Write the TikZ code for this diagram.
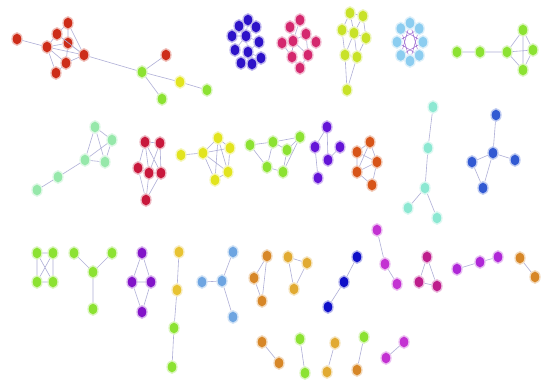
\documentclass[tikz,border=0pt]{standalone}
\usetikzlibrary{shapes.geometric}
\definecolor{redc}{RGB}{205,45,25}
\definecolor{bluec}{RGB}{45,18,200}
\definecolor{pinkc}{RGB}{212,40,110}
\definecolor{ygc}{RGB}{200,226,40}
\definecolor{lbc}{RGB}{140,205,240}
\definecolor{grc}{RGB}{140,226,50}
\definecolor{mintg}{RGB}{150,232,170}
\definecolor{crim}{RGB}{200,24,60}
\definecolor{yel}{RGB}{226,228,30}
\definecolor{purp}{RGB}{100,20,215}
\definecolor{oran}{RGB}{215,85,25}
\definecolor{mint}{RGB}{140,232,210}
\definecolor{blu}{RGB}{50,90,210}
\definecolor{purp2}{RGB}{130,20,200}
\definecolor{gold}{RGB}{232,195,50}
\definecolor{skyb}{RGB}{110,165,225}
\definecolor{orng}{RGB}{215,135,40}
\definecolor{gold2}{RGB}{225,170,50}
\definecolor{dblu}{RGB}{15,15,200}
\definecolor{mag}{RGB}{195,50,210}
\definecolor{mag2}{RGB}{190,30,140}
\definecolor{purp3}{RGB}{175,40,215}
\definecolor{edgec}{RGB}{175,175,215}
\definecolor{edgev}{RGB}{160,110,210}
\tikzset{
  dot/.style={ellipse,fill=#1,draw=#1!30,line width=1.3pt,minimum width=10pt,minimum height=12.5pt,inner sep=0pt},
  lnk/.style={draw=edgec,line width=0.6pt},
  lnkv/.style={draw=edgev,line width=0.5pt}
}
\begin{document}
\begin{tikzpicture}[x=1pt,y=-1pt]
\useasboundingbox (0,0) rectangle (544,381);
\fill[white] (0,0) rectangle (544,381);
% Group A
\node[dot=redc] (A1) at (17,39) {};
\node[dot=redc] (A2) at (68,23) {};
\node[dot=redc] (A3) at (57,34) {};
\node[dot=redc] (A4) at (47,47) {};
\node[dot=redc] (A5) at (68,43) {};
\node[dot=redc] (A6) at (84,55) {};
\node[dot=redc] (A7) at (66,63) {};
\node[dot=redc] (A8) at (56,73) {};
\node[dot=grc] (A9) at (142,72) {};
\node[dot=redc] (A10) at (166,55) {};
\node[dot=yel] (A11) at (180,82) {};
\node[dot=grc] (A12) at (207,90) {};
\node[dot=grc] (A13) at (162,99) {};
\draw[lnk] (A1)--(A4) (A4)--(A3) (A4)--(A5) (A4)--(A7) (A4)--(A8) (A3)--(A2) (A3)--(A5) (A2)--(A5) (A2)--(A6) (A5)--(A6) (A3)--(A6) (A5)--(A7) (A7)--(A6) (A7)--(A8) (A4)--(A6) (A6)--(A9) (A9)--(A10) (A9)--(A11) (A11)--(A12) (A9)--(A13);
% Group B blue
\node[dot=bluec] (B1) at (248,20) {};
\node[dot=bluec] (B2) at (239,26) {};
\node[dot=bluec] (B3) at (256,27) {};
\node[dot=bluec] (B4) at (232,36) {};
\node[dot=bluec] (B5) at (246,36) {};
\node[dot=bluec] (B6) at (259,42) {};
\node[dot=bluec] (B7) at (235,50) {};
\node[dot=bluec] (B8) at (248,52) {};
\node[dot=bluec] (B9) at (261,58) {};
\node[dot=bluec] (B10) at (241,63) {};
\node[dot=bluec] (B11) at (252,64) {};
\draw[lnk] (B5)--(B1) (B5)--(B2) (B5)--(B3) (B5)--(B4) (B5)--(B6) (B5)--(B7) (B5)--(B8) (B8)--(B9) (B8)--(B10) (B8)--(B11) (B6)--(B8);
% Group P pink
\node[dot=pinkc] (P1) at (300,20) {};
\node[dot=pinkc] (P2) at (290,27) {};
\node[dot=pinkc] (P3) at (306,34) {};
\node[dot=pinkc] (P4) at (293,41) {};
\node[dot=pinkc] (P5) at (282,43) {};
\node[dot=pinkc] (P6) at (316,42) {};
\node[dot=pinkc] (P7) at (308,55) {};
\node[dot=pinkc] (P8) at (292,57) {};
\node[dot=pinkc] (P9) at (300,68) {};
\draw[lnk] (P4)--(P1) (P4)--(P2) (P4)--(P3) (P4)--(P5) (P4)--(P7) (P4)--(P8) (P3)--(P6) (P3)--(P7) (P7)--(P9) (P8)--(P9) (P5)--(P8);
% Group Y yellow-green
\node[dot=ygc] (Y1) at (350,13) {};
\node[dot=ygc] (Y2) at (363,16) {};
\node[dot=ygc] (Y3) at (342,30) {};
\node[dot=ygc] (Y4) at (354,33) {};
\node[dot=ygc] (Y5) at (366,38) {};
\node[dot=ygc] (Y6) at (345,55) {};
\node[dot=ygc] (Y7) at (357,57) {};
\node[dot=ygc] (Y8) at (347,90) {};
\draw[lnk] (Y1)--(Y3) (Y1)--(Y4) (Y2)--(Y4) (Y2)--(Y5) (Y3)--(Y4) (Y4)--(Y5) (Y3)--(Y6) (Y4)--(Y6) (Y4)--(Y7) (Y5)--(Y7) (Y6)--(Y7) (Y6)--(Y8) (Y7)--(Y8) (Y1)--(Y2);
% Flower light blue
\foreach \i in {0,...,7} {
  \node[dot=lbc] (F\i) at ({410+13*cos(90+45*\i)},{42-19*sin(90+45*\i)}) {};
}
\draw[lnkv] (F0)--(F3) (F3)--(F6) (F6)--(F1) (F1)--(F4) (F4)--(F7) (F7)--(F2) (F2)--(F5) (F5)--(F0);
% Green chain
\node[dot=grc] (G1) at (457,52) {};
\node[dot=grc] (G2) at (480,52) {};
\node[dot=grc] (G3) at (507,52) {};
\node[dot=grc] (G4) at (523,30) {};
\node[dot=grc] (G5) at (533,50) {};
\node[dot=grc] (G6) at (523,70) {};
\draw[lnk] (G1)--(G2) (G2)--(G3) (G3)--(G4) (G3)--(G6) (G4)--(G5) (G5)--(G6) (G4)--(G6) (G3)--(G5);
% Light green
\node[dot=mintg] (L1) at (95,127) {};
\node[dot=mintg] (L2) at (112,140) {};
\node[dot=mintg] (L3) at (85,160) {};
\node[dot=mintg] (L4) at (105,162) {};
\node[dot=mintg] (L5) at (58,177) {};
\node[dot=mintg] (L6) at (37,190) {};
\draw[lnk] (L1)--(L2) (L1)--(L3) (L2)--(L3) (L3)--(L4) (L2)--(L4) (L1)--(L4) (L3)--(L5) (L5)--(L6);
% Crimson
\node[dot=crim] (C1) at (145,142) {};
\node[dot=crim] (C2) at (160,143) {};
\node[dot=crim] (C3) at (138,168) {};
\node[dot=crim] (C4) at (149,173) {};
\node[dot=crim] (C5) at (161,173) {};
\node[dot=crim] (C6) at (146,200) {};
\draw[lnk] (C1)--(C2) (C1)--(C3) (C1)--(C4) (C2)--(C5) (C2)--(C4) (C1)--(C5) (C3)--(C6) (C5)--(C6) (C4)--(C6) (C3)--(C4) (C4)--(C5);
% Yellow
\node[dot=yel] (Q1) at (181,155) {};
\node[dot=yel] (Q2) at (203,153) {};
\node[dot=yel] (Q3) at (218,138) {};
\node[dot=yel] (Q4) at (230,148) {};
\node[dot=yel] (Q5) at (228,172) {};
\node[dot=yel] (Q6) at (215,180) {};
\draw[lnk] (Q1)--(Q2) (Q2)--(Q3) (Q3)--(Q4) (Q4)--(Q5) (Q5)--(Q6) (Q6)--(Q2) (Q2)--(Q4) (Q3)--(Q5) (Q3)--(Q6) (Q2)--(Q5);
% Green 2
\node[dot=grc] (R1) at (250,145) {};
\node[dot=grc] (R2) at (273,142) {};
\node[dot=grc] (R3) at (300,137) {};
\node[dot=grc] (R4) at (287,150) {};
\node[dot=grc] (R5) at (267,167) {};
\node[dot=grc] (R6) at (283,172) {};
\draw[lnk] (R1)--(R2) (R2)--(R3) (R1)--(R5) (R2)--(R5) (R2)--(R4) (R3)--(R4) (R4)--(R6) (R5)--(R6) (R3)--(R6);
% Purple
\node[dot=purp] (U1) at (327,127) {};
\node[dot=purp] (U2) at (315,147) {};
\node[dot=purp] (U3) at (340,147) {};
\node[dot=purp] (U4) at (328,160) {};
\node[dot=purp] (U5) at (318,178) {};
\draw[lnk] (U1)--(U2) (U1)--(U4) (U3)--(U4) (U2)--(U5);
% Orange pentagon
\node[dot=oran] (O1) at (370,142) {};
\node[dot=oran] (O2) at (357,152) {};
\node[dot=oran] (O3) at (377,162) {};
\node[dot=oran] (O4) at (357,172) {};
\node[dot=oran] (O5) at (372,185) {};
\draw[lnk] (O1)--(O2) (O1)--(O3) (O2)--(O4) (O3)--(O5) (O4)--(O5) (O2)--(O3) (O1)--(O4) (O3)--(O4);
% Mint
\node[dot=mint] (M1) at (433,107) {};
\node[dot=mint] (M2) at (428,148) {};
\node[dot=mint] (M3) at (425,188) {};
\node[dot=mint] (M4) at (408,208) {};
\node[dot=mint] (M5) at (437,218) {};
\draw[lnk] (M1)--(M2) (M2)--(M3) (M3)--(M4) (M3)--(M5);
% Blue
\node[dot=blu] (N1) at (496,115) {};
\node[dot=blu] (N2) at (493,153) {};
\node[dot=blu] (N3) at (515,160) {};
\node[dot=blu] (N4) at (472,162) {};
\node[dot=blu] (N5) at (483,188) {};
\draw[lnk] (N1)--(N2) (N2)--(N3) (N2)--(N4) (N4)--(N5) (N5)--(N2);
% Green square
\node[dot=grc] (S1) at (37,253) {};
\node[dot=grc] (S2) at (53,253) {};
\node[dot=grc] (S3) at (37,282) {};
\node[dot=grc] (S4) at (53,282) {};
\draw[lnk] (S1)--(S2) (S2)--(S4) (S4)--(S3) (S3)--(S1) (S1)--(S4) (S2)--(S3);
% Green Y
\node[dot=grc] (T1) at (74,253) {};
\node[dot=grc] (T2) at (112,253) {};
\node[dot=grc] (T3) at (93,272) {};
\node[dot=grc] (T4) at (93,309) {};
\draw[lnk] (T1)--(T3) (T2)--(T3) (T3)--(T4);
% Purple diamond
\node[dot=purp2] (D1) at (142,253) {};
\node[dot=purp2] (D2) at (132,282) {};
\node[dot=purp2] (D3) at (151,282) {};
\node[dot=purp2] (D4) at (142,312) {};
\draw[lnk] (D1)--(D2) (D1)--(D3) (D2)--(D3) (D2)--(D4) (D3)--(D4);
% Chain gold-green
\node[dot=gold] (K1) at (179,252) {};
\node[dot=gold] (K2) at (177,290) {};
\node[dot=grc] (K3) at (174,328) {};
\node[dot=grc] (K4) at (172,367) {};
\draw[lnk] (K1)--(K2) (K2)--(K3) (K3)--(K4);
% Sky blue
\node[dot=skyb] (V1) at (233,252) {};
\node[dot=skyb] (V2) at (222,281) {};
\node[dot=skyb] (V3) at (202,282) {};
\node[dot=skyb] (V4) at (233,317) {};
\draw[lnk] (V2)--(V1) (V2)--(V3) (V2)--(V4);
% Orange triangle
\node[dot=orng] (W1) at (267,256) {};
\node[dot=orng] (W2) at (254,278) {};
\node[dot=orng] (W3) at (262,301) {};
\draw[lnk] (W1)--(W2) (W2)--(W3) (W1)--(W3);
% Gold triangle
\node[dot=gold2] (X1) at (288,257) {};
\node[dot=gold2] (X2) at (307,263) {};
\node[dot=gold2] (X3) at (294,289) {};
\draw[lnk] (X1)--(X2) (X2)--(X3) (X1)--(X3);
% Dark blue chain
\node[dot=dblu] (Z1) at (357,257) {};
\node[dot=dblu] (Z2) at (344,282) {};
\node[dot=dblu] (Z3) at (328,307) {};
\draw[lnk] (Z1)--(Z2) (Z2)--(Z3);
% Magenta chain
\node[dot=mag] (H1) at (377,230) {};
\node[dot=mag] (H2) at (385,264) {};
\node[dot=mag] (H3) at (397,284) {};
\draw[lnk] (H1)--(H2) (H2)--(H3);
% Magenta triangle
\node[dot=mag2] (I1) at (427,257) {};
\node[dot=mag2] (I2) at (419,282) {};
\node[dot=mag2] (I3) at (437,286) {};
\draw[lnk] (I1)--(I2) (I2)--(I3) (I1)--(I3);
% Purple chain
\node[dot=purp3] (J1) at (457,269) {};
\node[dot=purp3] (J2) at (480,262) {};
\node[dot=purp3] (J3) at (498,257) {};
\draw[lnk] (J1)--(J2) (J2)--(J3);
% Orange pair
\node[dot=orng] (E1) at (520,258) {};
\node[dot=orng] (E2) at (535,277) {};
\draw[lnk] (E1)--(E2);
% Bottom pairs
\node[dot=orng] (BP1) at (262,342) {};
\node[dot=orng] (BP2) at (279,363) {};
\node[dot=grc] (BP3) at (300,339) {};
\node[dot=grc] (BP4) at (305,373) {};
\node[dot=gold2] (BP5) at (335,343) {};
\node[dot=gold2] (BP6) at (327,372) {};
\node[dot=grc] (BP7) at (364,337) {};
\node[dot=orng] (BP8) at (357,370) {};
\node[dot=mag] (BP9) at (404,342) {};
\node[dot=mag] (BP10) at (386,358) {};
\draw[lnk] (BP1)--(BP2) (BP3)--(BP4) (BP5)--(BP6) (BP7)--(BP8) (BP9)--(BP10);
\end{tikzpicture}
\end{document}
